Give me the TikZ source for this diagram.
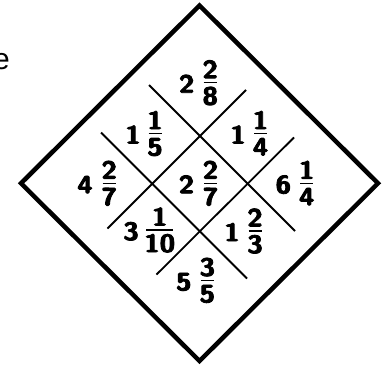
\documentclass[tikz,border=0pt]{standalone}
\usepackage{fontspec}
\newfontfamily\efont{Liberation Sans}
\newfontfamily\digfont{lmsans10-bold.otf}[FakeBold=3.5,FakeStretch=1.12]
\tikzset{
  digit/.style={inner sep=0pt, anchor=base, font=\fontsize{25}{26}\selectfont\digfont},
  fracbar/.style={line width=1.5pt},
  gridline/.style={line width=1.8pt, line cap=butt},
  frame/.style={line width=4.5pt, line join=miter},
}
\newcommand\mixnum[8]{%
  \node[digit] (#1i) at (#2,#4+10) {#5};
  \node[digit] (#1n) at (#3,#4-4.5) {#6};
  \node[digit] (#1d) at (#3,#4+22) {#7};
  \coordinate (#1l) at (#3-#8,#4);
  \coordinate (#1r) at (#3+#8,#4);
  \draw[fracbar] (#1l) -- (#1r);
}
\begin{document}
\begin{tikzpicture}[x=1pt,y=-1pt]
\useasboundingbox (0,0) rectangle (387,364);
% partial text at the left edge
\node[inner sep=0pt, anchor=base east, font=\fontsize{30}{32}\selectfont\efont] (etext) at (10,69) {e};
% outer diamond
\coordinate (top) at (199.5,5.5);
\coordinate (right) at (378,183.3);
\coordinate (bottom) at (199.5,361);
\coordinate (left) at (21,183.3);
\draw[frame] (top) -- (right) -- (bottom) -- (left) -- cycle;
% grid lines
\coordinate (l1a) at (149,85);   \coordinate (l1b) at (295,231);
\coordinate (l2a) at (101,132.5); \coordinate (l2b) at (247,278.5);
\coordinate (l3a) at (246,90);  \coordinate (l3b) at (107.5,228.5);
\coordinate (l4a) at (294,137.5); \coordinate (l4b) at (156.5,274.5);
\draw[gridline] (l1a) -- (l1b);
\draw[gridline] (l2a) -- (l2b);
\draw[gridline] (l3a) -- (l3b);
\draw[gridline] (l4a) -- (l4b);
% mixed numbers
\mixnum{nt}{186.7}{210.2}{82.7}{2}{2}{8}{6.5}
\mixnum{nw}{133.0}{155.0}{133.5}{1}{1}{5}{6.5}
\mixnum{ne}{238.0}{260.5}{133.5}{1}{1}{4}{6.5}
\mixnum{ww}{85.0}{109.2}{183.3}{4}{2}{7}{6.5}
\mixnum{cc}{186.5}{210.5}{183.3}{2}{2}{7}{6.5}
\mixnum{ee}{283.3}{306.7}{183.3}{6}{1}{4}{6.5}
\mixnum{sw}{131.0}{159.7}{230.0}{3}{1}{10}{13.7}
\mixnum{se}{232.0}{255.0}{231.0}{1}{2}{3}{6.5}
\mixnum{ss}{183.8}{207.3}{280.3}{5}{3}{5}{6.5}
\end{tikzpicture}
\end{document}
